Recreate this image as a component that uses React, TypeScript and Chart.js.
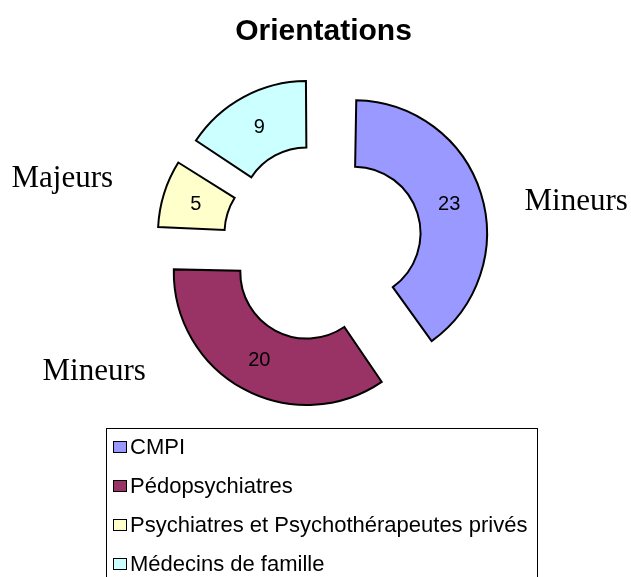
import { useEffect, useRef } from "react";
import { Chart, registerables } from "chart.js";

Chart.register(...registerables);

const chartTitle = "Orientations";
const categories = [
  "CMPI",
  "Pédopsychiatres",
  "Psychiatres et Psychothérapeutes privés",
  "Médecins de famille",
];
const values = [23, 20, 5, 9];
const colors = ["#9999FF", "#993366", "#FFFFCC", "#CCFFFF"];
const groupNames = ["Mineurs", "Mineurs", "Majeurs"];

const EXPLODE = 33; // px each slice is pushed out along its bisector

const SANS = '"Liberation Sans", Arial, sans-serif';
const SERIF = '"Liberation Serif", "Times New Roman", serif';

// Chart.js enlarges radii of offset arcs depending on their sweep; undo that so all slices share one ring size.
const radiusFix = {
  id: "radiusFix",
  afterDatasetsUpdate(chart: any) {
    const meta = chart.getDatasetMeta(0);
    meta.data.forEach((arc: any) => {
      const circ = arc.endAngle - arc.startAngle;
      const fix = 1 - Math.sin(Math.min(Math.PI, circ));
      const ro = EXPLODE * fix;
      arc.outerRadius -= ro;
      arc.innerRadius -= ro;
      arc.$ro = ro;
    });
  },
};

const decorations = {
  id: "decorations",
  afterDraw(chart: any) {
    const ctx = chart.ctx as CanvasRenderingContext2D;
    const area = chart.chartArea;
    const cx = (area.left + area.right) / 2;
    const cy = (area.top + area.bottom) / 2;
    ctx.save();

    // title
    ctx.fillStyle = "#000";
    ctx.font = `bold 30px ${SANS}`;
    ctx.textAlign = "center";
    ctx.textBaseline = "alphabetic";
    ctx.fillText(chartTitle, cx + 1, 40);

    // value labels
    const meta = chart.getDatasetMeta(0);
    ctx.font = `20px ${SANS}`;
    ctx.textBaseline = "middle";
    meta.data.forEach((arc: any, i: number) => {
      const mid = (arc.startAngle + arc.endAngle) / 2;
      const ro = arc.$ro || 0;
      const rMid = (arc.outerRadius + arc.innerRadius) / 2 + ro;
      const x = arc.x + Math.cos(mid) * (EXPLODE + rMid);
      const y = arc.y + Math.sin(mid) * (EXPLODE + rMid);
      ctx.fillText(String(values[i]), x, y + 1);
    });

    // group annotations
    ctx.font = `31px ${SERIF}`;
    ctx.textAlign = "left";
    ctx.textBaseline = "alphabetic";
    ctx.fillText(groupNames[0], cx + 202, cy - 33);
    ctx.fillText(groupNames[1], cx - 280, cy + 137);
    ctx.fillText(groupNames[2], cx - 311, cy - 56);

    // legend
    ctx.strokeStyle = "#000";
    ctx.lineWidth = 1;
    ctx.strokeRect(106.5, 428.5, 431, 200);
    ctx.font = `22px ${SANS}`;
    categories.forEach((label, i) => {
      const base = 454 + i * 39;
      ctx.fillStyle = colors[i];
      ctx.fillRect(113.5, base - 12.5, 13, 11);
      ctx.strokeStyle = "#000";
      ctx.strokeRect(113.5, base - 12.5, 13, 11);
      ctx.fillStyle = "#000";
      ctx.fillText(label, 130, base);
    });

    ctx.restore();
  },
};

export default function App() {
  const ref = useRef<HTMLCanvasElement | null>(null);

  useEffect(() => {
    if (!ref.current) return;
    const chart = new Chart(ref.current, {
      type: "doughnut",
      data: {
        labels: categories,
        datasets: [
          {
            data: values,
            backgroundColor: colors,
            borderColor: "#000",
            borderWidth: 2,
            borderJoinStyle: "miter",
            offset: EXPLODE * 4,
            hoverOffset: 0,
          } as any,
        ],
      },
      options: {
        responsive: false,
        animation: false,
        events: [],
        radius: 133,
        cutout: "50%",
        layout: { padding: { left: 14, right: 0, top: 0, bottom: 91 } },
        plugins: {
          legend: { display: false },
          tooltip: { enabled: false },
          title: { display: false },
        },
      } as any,
      plugins: [radiusFix, decorations],
    });
    return () => chart.destroy();
  }, []);

  return (
    <div
      style={{
        position: "fixed",
        left: 0,
        top: 0,
        width: 631,
        height: 577,
        overflow: "hidden",
        background: "#fff",
      }}
    >
      <canvas ref={ref} width={631} height={577} style={{ display: "block" }} />
    </div>
  );
}
